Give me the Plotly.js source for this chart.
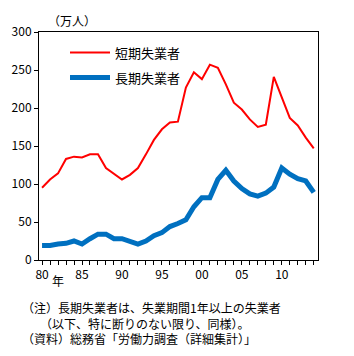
<!DOCTYPE html>
<html>
<head>
<meta charset="utf-8">
<script src="https://cdn.plot.ly/plotly-3.0.1.min.js"></script>
<style>html,body{margin:0;padding:0;background:#fff;}#chart{width:354px;height:356px;}</style>
</head>
<body>
<div id="chart"></div>
<script>
const years = [1980,1981,1982,1983,1984,1985,1986,1987,1988,1989,1990,1991,1992,1993,1994,1995,1996,1997,1998,1999,2000,2001,2002,2003,2004,2005,2006,2007,2008,2009,2010,2011,2012,2013,2014];
const shortTerm = [95,106,114,133,136,135,139,139,121,114,106,112,121,139,158,172,181,182,227,247,238,257,253,231,207,198,185,175,178,241,213,187,177,161,147];
const longTerm = [19,19,21,22,25,21,28,34,34,28,28,24,21,25,32,36,44,48,53,70,82,82,106,118,104,94,87,84,88,96,121,113,107,104,89];
const seriesNames = ['短期失業者','長期失業者'];
const xTickLabels = years.map(y => (y % 5 === 0) ? String(y % 100).padStart(2,'0') : '');
const yUnit = '（万人）';
const xUnit = '年';
const notes = ['（注）長期失業者は、失業期間1年以上の失業者','\u3000\u2002（以下、特に断りのない限り、同様）。','（資料）総務省「労働力調査（詳細集計）」'];

const FONT = '"Noto Sans CJK JP", "Noto Sans", sans-serif';
const L = 39, R = 36, T = 32, B = 96, W = 354, H = 356;
const pw = W - L - R, ph = H - T - B;
const px = x => (x - L) / pw;
const py = y => (H - B - y) / ph;

const traces = [
  {x: years, y: shortTerm, name: seriesNames[0], type: 'scatter', mode: 'lines',
   line: {color: '#ff0000', width: 2}},
  {x: years, y: longTerm, name: seriesNames[1], type: 'scatter', mode: 'lines',
   line: {color: '#0070c0', width: 5}}
];

const annotations = [
  {xref:'paper', yref:'paper', x: px(46), y: py(21), xanchor:'left', yanchor:'middle', text: yUnit, showarrow:false, font:{size:12, color:'#000', family:FONT}},
  {xref:'paper', yref:'paper', x: px(58), y: py(280), xanchor:'center', yanchor:'middle', text: xUnit, showarrow:false, font:{size:12, color:'#000', family:FONT}},
  {xref:'paper', yref:'paper', x: px(113), y: py(52.5), xanchor:'left', yanchor:'middle', text: seriesNames[0], showarrow:false, font:{size:13, color:'#000', family:FONT}},
  {xref:'paper', yref:'paper', x: px(113), y: py(77.5), xanchor:'left', yanchor:'middle', text: seriesNames[1], showarrow:false, font:{size:13, color:'#000', family:FONT}},
  {xref:'paper', yref:'paper', x: px(20), y: py(323), xanchor:'left', yanchor:'middle', align:'left', text: notes.join('<br>'), showarrow:false, font:{size:12, color:'#000', family:FONT}}
];

const shapes = [
  {type:'line', xref:'paper', yref:'paper', x0: px(70), x1: px(110), y0: py(52.5), y1: py(52.5), line:{color:'#ff0000', width:2}},
  {type:'line', xref:'paper', yref:'paper', x0: px(70), x1: px(110), y0: py(77.5), y1: py(77.5), line:{color:'#0070c0', width:5}}
];

const layout = {
  width: W, height: H,
  margin: {l: L, r: R, t: T, b: B, pad: 0},
  paper_bgcolor: '#fff', plot_bgcolor: '#fff',
  showlegend: false,
  font: {family: FONT, size: 12, color: '#000'},
  xaxis: {
    range: [1979.62, 2014.53], tickmode: 'array', tickvals: years, ticktext: xTickLabels,
    ticks: 'outside', ticklen: 4, tickcolor: '#000', tickwidth: 1,
    showline: true, linecolor: '#000', linewidth: 1, mirror: true,
    showgrid: false, zeroline: false, fixedrange: true,
    tickfont: {size: 12, family: FONT, color: '#000'}
  },
  yaxis: {
    range: [0, 300], tickmode: 'linear', tick0: 0, dtick: 50,
    ticks: 'outside', ticklen: 4, tickcolor: '#000', tickwidth: 1,
    showline: true, linecolor: '#000', linewidth: 1, mirror: true,
    showgrid: false, zeroline: false, fixedrange: true,
    tickfont: {size: 12, family: FONT, color: '#000'}
  },
  annotations: annotations,
  shapes: shapes
};

Plotly.newPlot('chart', traces, layout, {displayModeBar: false, staticPlot: true});
</script>
</body>
</html>
